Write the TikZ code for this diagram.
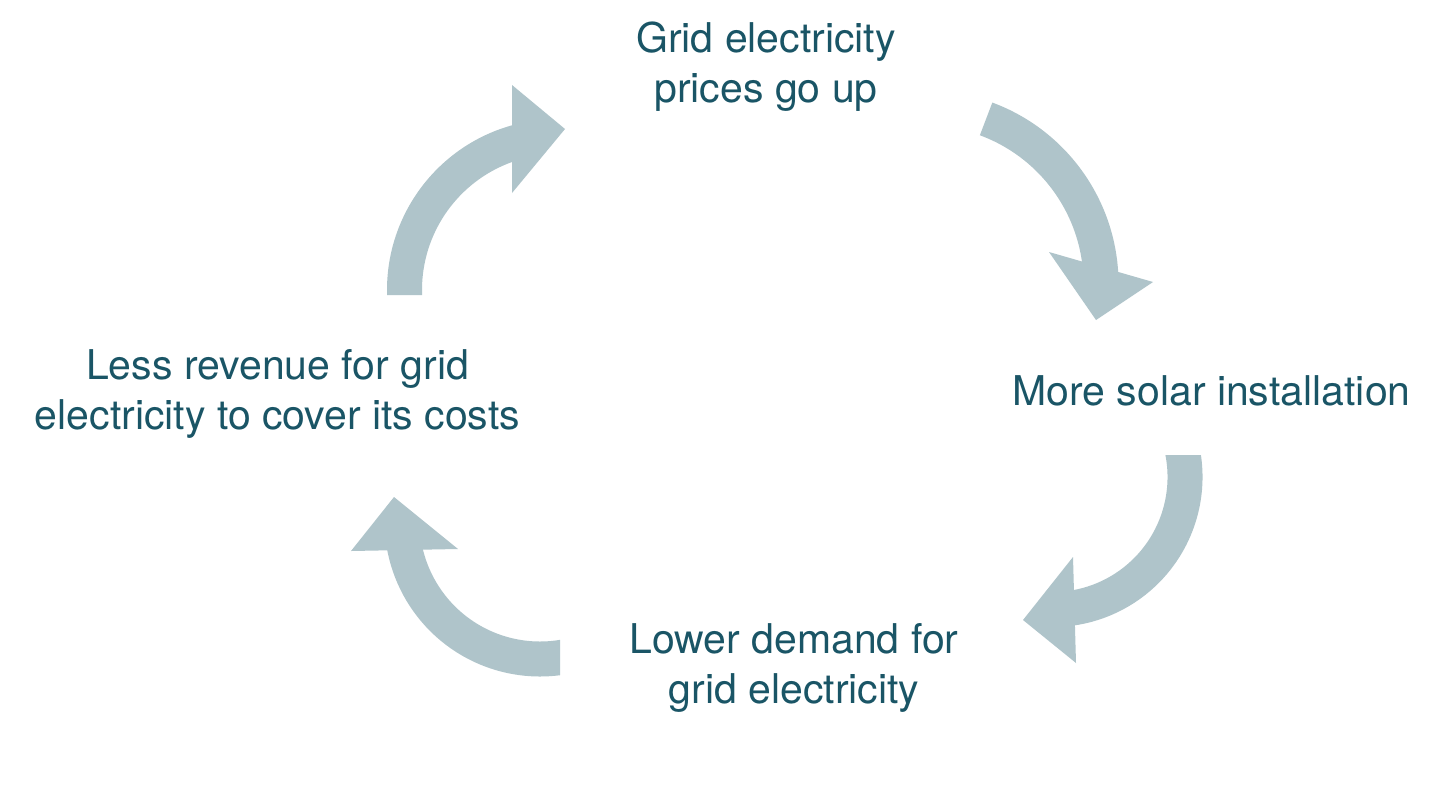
\documentclass[tikz,border=0pt]{standalone}
\usepackage{fontspec}
\setmainfont{TeX Gyre Heros}
\definecolor{txt}{HTML}{1A5566}
\definecolor{arr}{HTML}{AFC4CA}
\begin{document}
\begin{tikzpicture}[x=1pt,y=-1pt,
  lbl/.style={text=txt, font=\fontsize{41}{50}\selectfont, align=center, inner sep=0pt, anchor=base},
  shaft/.style={draw=arr, line width=35pt, line cap=butt},
  head/.style={fill=arr, draw=none}]
\useasboundingbox[fill=white] (0,0) rectangle (1456,785);

% text nodes (anchor = baseline of last line)
\node[lbl] (top) at (766,102) {Grid electricity\\prices go up};
\node[lbl] (right) at (1211.5,405) {More solar installation};
\node[lbl] (bottom) at (794,703) {Lower demand for\\grid electricity};
\node[lbl] (left) at (277.5,429) {Less revenue for grid\\electricity to cover its costs};

% arrow 1: left -> top
\coordinate (a1t) at (404.5,295);
\coordinate (a1s) at (404.5,290);
\coordinate (a1u) at (512,85);
\coordinate (a1p) at (565,129);
\coordinate (a1d) at (512,193);
\draw[shaft] (a1t) -- (a1s) arc[start angle=180, end angle=258, radius=153.5];
\fill[head] (a1u) -- (a1p) -- (a1d) -- cycle;

% arrow 2: top -> right
\coordinate (a2t) at (986.1,118.9);
\coordinate (a2u) at (1049,252);
\coordinate (a2p) at (1096,320);
\coordinate (a2d) at (1153,282);
\draw[shaft] (a2t) arc[start angle=-69.7, end angle=0, radius=176];
\fill[head] (a2u) -- (a2p) -- (a2d) -- cycle;

% arrow 3: right -> bottom
\coordinate (a3t) at (1179.9,440.5);
\coordinate (a3u) at (1073,557);
\coordinate (a3p) at (1023,620);
\coordinate (a3d) at (1076,663);
\begin{scope}
  \clip (0,455) rectangle (1456,785);
  \draw[shaft] (a3t) arc[start angle=-16, end angle=85, radius=132.5];
\end{scope}
\fill[head] (a3u) -- (a3p) -- (a3d) -- cycle;

% arrow 4: bottom -> left
\coordinate (a4t) at (575.7,654.3);
\coordinate (a4u) at (351,551);
\coordinate (a4p) at (394,497);
\coordinate (a4d) at (458,549);
\begin{scope}
  \clip (0,0) rectangle (560,785);
  \draw[shaft] (a4t) arc[start angle=75, end angle=173, radius=138];
\end{scope}
\fill[head] (a4u) -- (a4p) -- (a4d) -- cycle;
\end{tikzpicture}
\end{document}
